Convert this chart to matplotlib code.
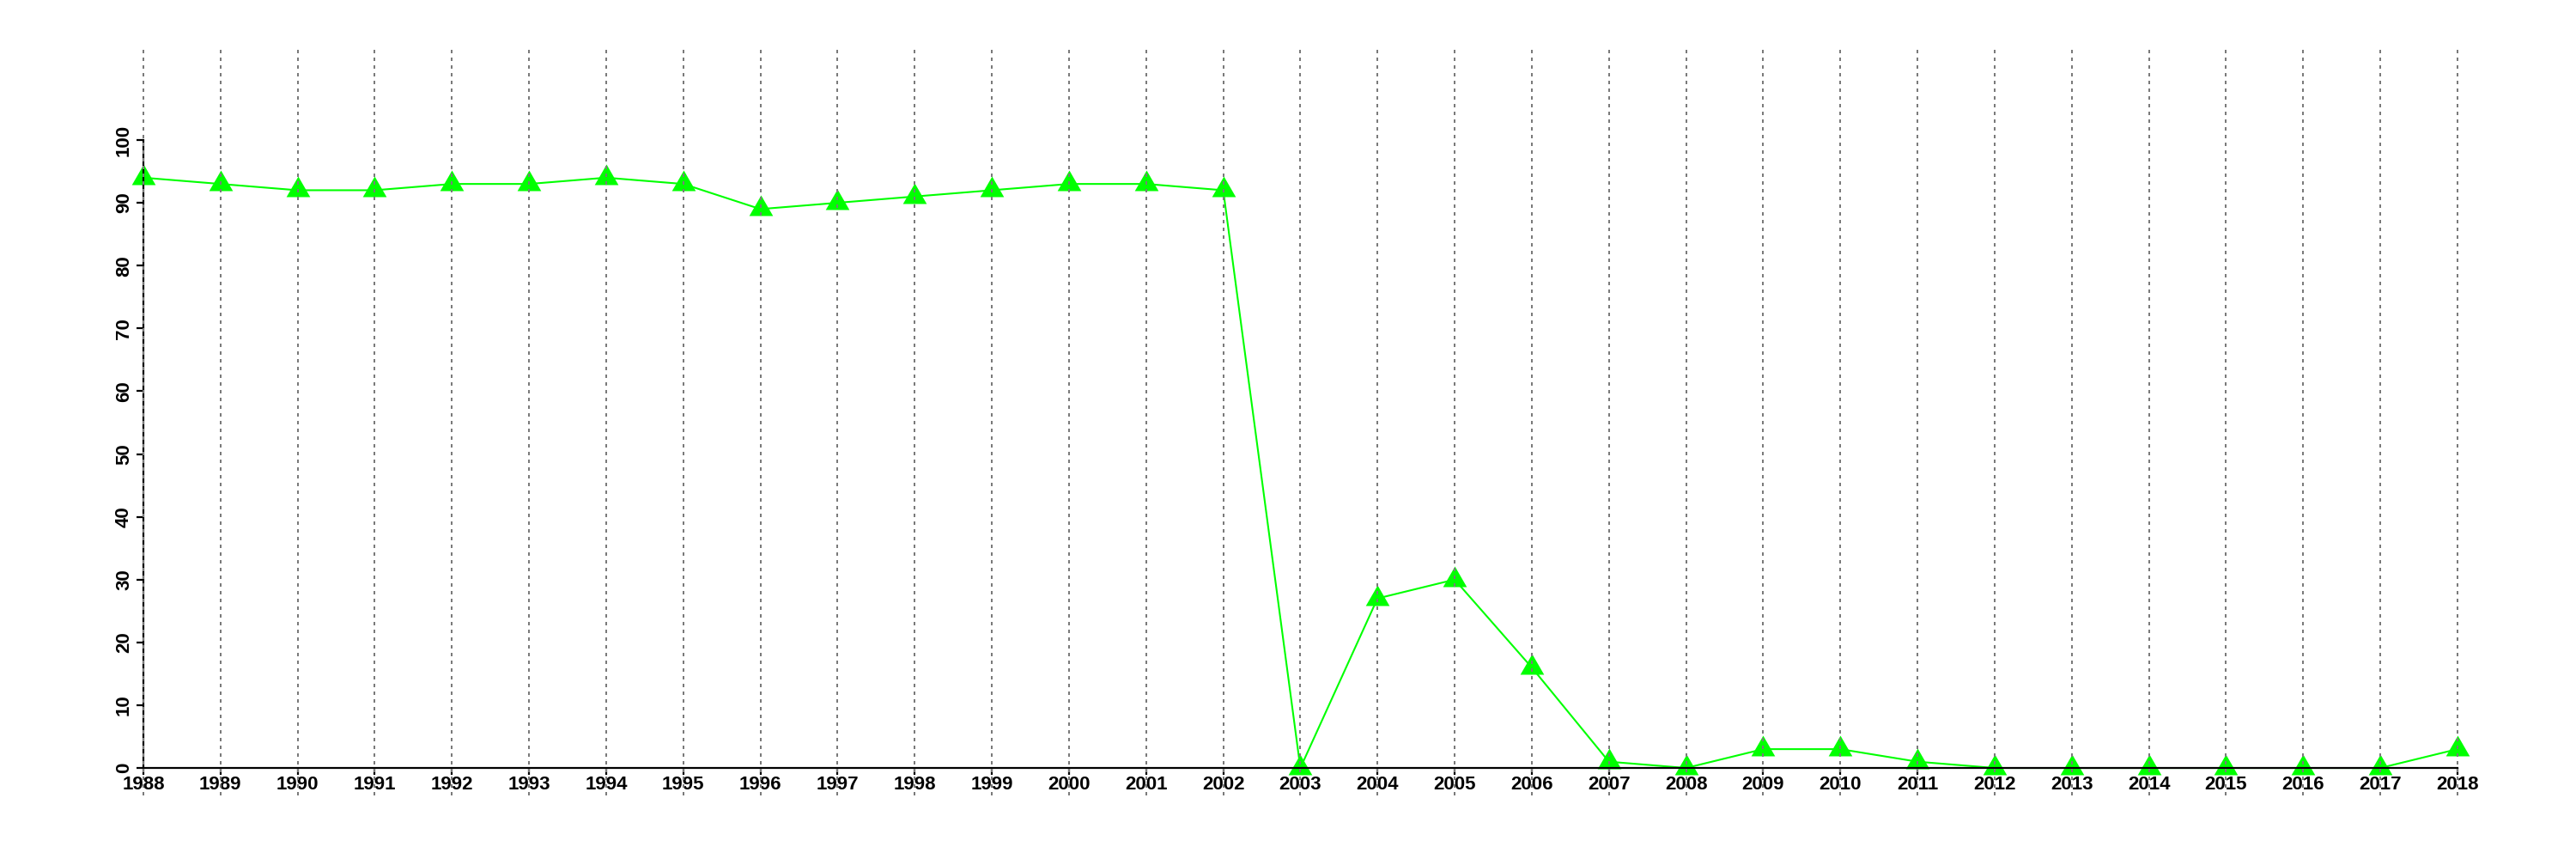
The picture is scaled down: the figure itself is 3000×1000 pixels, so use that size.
import matplotlib
matplotlib.use('Agg')
import matplotlib.pyplot as plt

years = [1988, 1989, 1990, 1991, 1992, 1993, 1994, 1995, 1996, 1997,
         1998, 1999, 2000, 2001, 2002, 2003, 2004, 2005, 2006, 2007,
         2008, 2009, 2010, 2011, 2012, 2013, 2014, 2015, 2016, 2017, 2018]
values = [94, 93, 92, 92, 93, 93, 94, 93, 89, 90,
          91, 92, 93, 93, 92, 0, 27, 30, 16, 1,
          0, 3, 3, 1, 0, 0, 0, 0, 0, 0, 3]
y_ticks = [0, 10, 20, 30, 40, 50, 60, 70, 80, 90, 100]

plt.rcParams['font.family'] = ['Liberation Sans', 'DejaVu Sans']

fig = plt.figure(figsize=(30, 10), dpi=100)
ax = fig.add_axes([0.0197, 0.0738, 0.9702, 0.8685])

# equilateral triangle, centroid at the data point (like R pch=17)
tri = [(-0.866, -0.5), (0.866, -0.5), (0.0, 1.0)]
ax.plot(years, values, color='#00ff00', lw=1.5, marker=tri, ms=23,
        mec='none', mfc='#00ff00', zorder=2, clip_on=False)

for yr in years:
    ax.axvline(yr, color='#7a7a7a', lw=1.44, dashes=(2, 2.5), zorder=4)

ax.set_xlim(1986.8, 2019.2)
ax.set_ylim(-4.4, 114.4)

for side in ['top', 'right']:
    ax.spines[side].set_visible(False)
ax.spines['left'].set_position(('data', 1988))
ax.spines['left'].set_bounds(0, 100)
ax.spines['bottom'].set_position(('data', 0))
ax.spines['bottom'].set_bounds(1988, 2018)
for side in ['left', 'bottom']:
    ax.spines[side].set_linewidth(1.6)
    ax.spines[side].set_zorder(3)

ax.set_xticks(years)
ax.set_xticklabels([str(y) for y in years])
ax.set_yticks(y_ticks)
ax.set_yticklabels([str(v) for v in y_ticks])
ax.tick_params(axis='both', length=5.5, width=1.6, labelsize=16)
ax.tick_params(axis='x', pad=1)
ax.tick_params(axis='y', pad=3, labelrotation=90)
for lab in ax.get_xticklabels() + ax.get_yticklabels():
    lab.set_fontweight('bold')
for lab in ax.get_yticklabels():
    lab.set_va('center')

fig.savefig('out.png', dpi=100)
